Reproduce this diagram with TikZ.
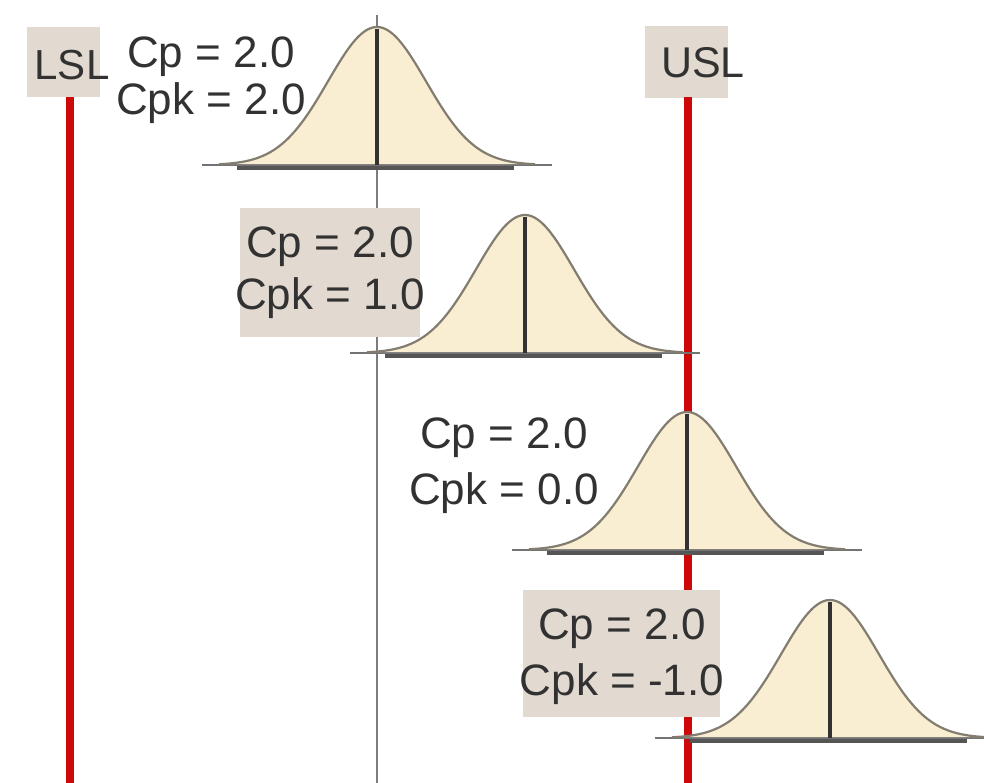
\documentclass[tikz,border=0pt]{standalone}
\usepackage{fontspec}
\setmainfont{Liberation Sans}
\definecolor{boxbg}{RGB}{226,218,208}
\definecolor{specred}{RGB}{204,8,8}
\definecolor{bellfill}{RGB}{250,238,210}
\definecolor{belledge}{RGB}{130,125,112}
\definecolor{inkgray}{RGB}{50,50,50}
\definecolor{centergray}{RGB}{125,125,125}
\definecolor{axisgray}{RGB}{115,115,115}
\definecolor{bargray}{RGB}{85,85,85}
\begin{document}
\begin{tikzpicture}[x=1pt,y=-1pt,
  lbl/.style={text=inkgray, align=center, inner sep=0pt},
  tag/.style={fill=boxbg, inner sep=0pt},
  specline/.style={specred, line width=8pt},
  centerline/.style={centergray, line width=2.5pt},
  bellarea/.style={fill=bellfill},
  belloutline/.style={draw=belledge, line width=2.2pt},
  meanline/.style={inkgray, line width=3.2pt},
  axisline/.style={axisgray, line width=2pt},
  shadowbar/.style={bargray, line width=4pt}]
\fill[white] (0,0) rectangle (984,783);
\useasboundingbox (0,0) rectangle (984,783);
% centre line of the specification
\coordinate (ctop) at (377,15);
\coordinate (cbot) at (377,783);
\draw[centerline] (ctop) -- (cbot);
% LSL / USL boxes and lines
\node[tag, minimum width=73pt, minimum height=70pt] (lslbox) at (63.5,62) {};
\node[tag, minimum width=83pt, minimum height=72pt] (uslbox) at (686.5,62) {};
\coordinate (lsltop) at (70,97);
\coordinate (lslbot) at (70,783);
\coordinate (usltop) at (688,97);
\coordinate (uslbot) at (688,783);
\draw[specline] (lsltop) -- (lslbot);
\draw[specline] (usltop) -- (uslbot);
% bell curves
\foreach \cx/\by in {377/165, 525/353, 687/550, 830/738} {
  \draw[shadowbar] (\cx-140,\by+3) -- (\cx+137,\by+3);
  \draw[axisline] (\cx-175,\by) -- (\cx+175,\by);
  \fill[bellarea] plot[domain=-158:158, samples=101]
     ({\cx+\x},{\by-138*exp(-(\x/49)*(\x/49)/2)}) -- cycle;
  \draw[belloutline] plot[domain=-158:158, samples=101]
     ({\cx+\x},{\by-138*exp(-(\x/49)*(\x/49)/2)});
  \draw[meanline] (\cx,\by-136) -- (\cx,\by);
}
% label boxes
\node[tag, minimum width=180pt, minimum height=129pt] (box2) at (330,272.5) {};
\node[tag, minimum width=197pt, minimum height=127pt] (box4) at (621.5,653.5) {};
% texts
\node[lbl, font=\fontsize{42}{50}\selectfont] (lsl) at (72,65) {LSL};
\node[lbl, font=\fontsize{43}{50}\selectfont] (usl) at (703,63) {USL};
\node[lbl, font=\fontsize{44}{47}\selectfont] (lab1) at (211,80) {Cp = 2.0\\Cpk = 2.0};
\node[lbl, font=\fontsize{44}{52}\selectfont] (lab2) at (330,273) {Cp = 2.0\\Cpk = 1.0};
\node[lbl, font=\fontsize{44}{56}\selectfont] (lab3) at (504,466) {Cp = 2.0\\Cpk = 0.0};
\node[lbl, font=\fontsize{44}{56}\selectfont] (lab4) at (622,657) {Cp = 2.0\\Cpk = -1.0};
\end{tikzpicture}
\end{document}
